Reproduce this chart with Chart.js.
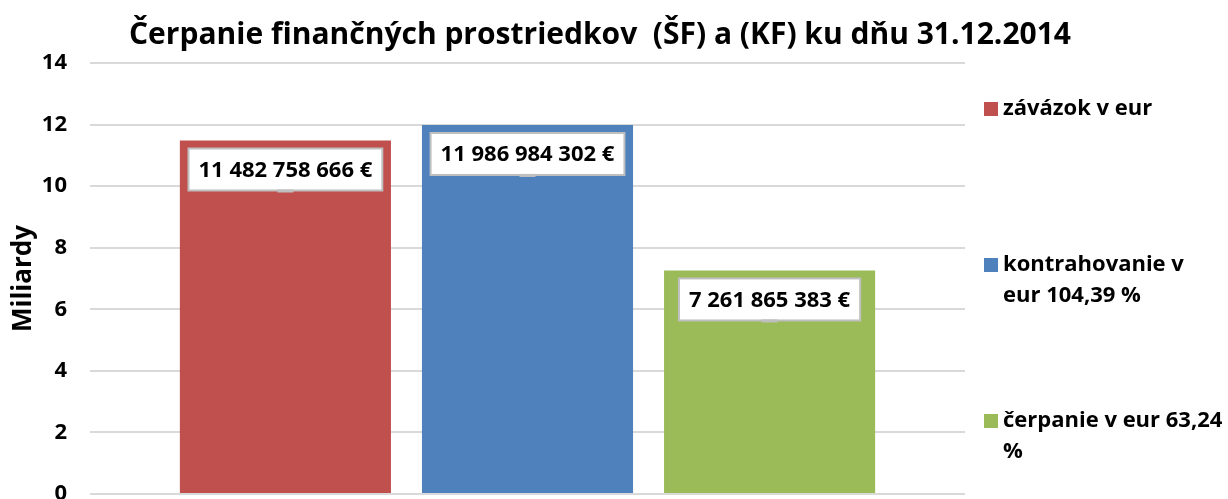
<!DOCTYPE html>
<html>
<head>
<meta charset="utf-8">
<script src="https://cdn.jsdelivr.net/npm/chart.js@4"></script>
<style>
  html, body { margin: 0; padding: 0; background: #fff; }
  #wrap { width: 1228px; height: 499px; }
</style>
</head>
<body>
<div id="wrap"><canvas id="cerpanieChart"></canvas></div>
<script>
const chartTitle = "Čerpanie finančných prostriedkov  (ŠF) a (KF) ku dňu 31.12.2014";
const categories = [""];
const seriesNames = [
  ["závázok v eur"],
  ["kontrahovanie v", "eur 104,39 %"],
  ["čerpanie v eur 63,24", "%"],
];
const seriesEuro = [11482758666, 11986984302, 7261865383];
const seriesColors = ["#C0504D", "#4F81BD", "#9BBB59"];
const yTicks = [0, 2, 4, 6, 8, 10, 12, 14];

const FONT = "'Open Sans', 'Noto Sans', sans-serif";

function formatEuro(v) {
  return String(v).replace(/\B(?=(\d{3})+(?!\d))/g, " ") + " €";
}

// boxed value labels inside the top of every bar
const valueLabels = {
  id: "valueLabels",
  afterDatasetsDraw(chart) {
    const ctx = chart.ctx;
    ctx.save();
    ctx.font = "bold 22px " + FONT;
    ctx.textAlign = "center";
    ctx.textBaseline = "middle";
    chart.data.datasets.forEach((ds, i) => {
      const bar = chart.getDatasetMeta(i).data[0];
      const text = formatEuro(seriesEuro[i]);
      const w = ctx.measureText(text).width + 20;
      const h = 42;
      const cy = bar.y + 29;
      ctx.fillStyle = "#fff";
      ctx.fillRect(bar.x - w / 2, cy - h / 2, w, h);
      ctx.strokeStyle = "#bfbfbf";
      ctx.lineWidth = 2;
      ctx.strokeRect(bar.x - w / 2, cy - h / 2, w, h);
      ctx.fillStyle = "#bfbfbf";
      ctx.fillRect(bar.x - 8, cy + h / 2 - 1, 16, 3);
      ctx.fillStyle = "#000";
      ctx.fillText(text, bar.x, cy + 1);
    });
    ctx.restore();
  },
};

// legend on the right, spread out like the original
const sideLegend = {
  id: "sideLegend",
  afterDraw(chart) {
    const ctx = chart.ctx;
    const area = chart.chartArea;
    ctx.save();
    ctx.font = "bold 22px " + FONT;
    ctx.textAlign = "left";
    ctx.textBaseline = "middle";
    seriesNames.forEach((lines, i) => {
      const y = area.top + 46 + i * 156;
      ctx.fillStyle = seriesColors[i];
      ctx.fillRect(area.right + 19, y - 7, 14, 14);
      ctx.fillStyle = "#000";
      lines.forEach((ln, j) => ctx.fillText(ln, area.right + 38, y + j * 31));
    });
    ctx.restore();
  },
};

new Chart(document.getElementById("cerpanieChart"), {
  type: "bar",
  data: {
    labels: categories,
    datasets: seriesNames.map((name, i) => ({
      label: name.join(" "),
      data: [seriesEuro[i] / 1e9],
      backgroundColor: seriesColors[i],
      categoryPercentage: 0.83,
      barPercentage: 0.872,
    })),
  },
  options: {
    responsive: true,
    maintainAspectRatio: false,
    animation: false,
    layout: { padding: { left: 0, right: 28, top: 0, bottom: 5 } },
    plugins: {
      legend: { display: false },
      tooltip: { enabled: false },
      title: {
        display: true,
        text: chartTitle,
        color: "#000",
        font: { family: FONT, size: 30, weight: "bold" },
        padding: { top: 17, bottom: 10 },
      },
    },
    scales: {
      x: {
        display: false,
      },
      y: {
        min: 0,
        max: 14,
        afterBuildTicks: (axis) => { axis.ticks = yTicks.map((v) => ({ value: v })); },
        afterFit: (axis) => {
          axis.width = 90;
          axis.paddingTop = 0;
          axis.paddingBottom = 0;
        },
        border: { display: false },
        grid: { color: "#d9d9d9", lineWidth: 2, drawTicks: false },
        ticks: {
          color: "#000",
          padding: 23,
          font: { family: FONT, size: 22, weight: "bold" },
        },
        title: {
          display: true,
          text: "Miliardy",
          color: "#000",
          padding: { top: 8, bottom: 0 },
          font: { family: FONT, size: 26, weight: "bold" },
        },
      },
      side: {
        position: "right",
        display: true,
        afterFit: (axis) => { axis.width = 235; },
        grid: { display: false },
        border: { display: false },
        ticks: { display: false },
      },
    },
  },
  plugins: [valueLabels, sideLegend],
});
</script>
</body>
</html>
